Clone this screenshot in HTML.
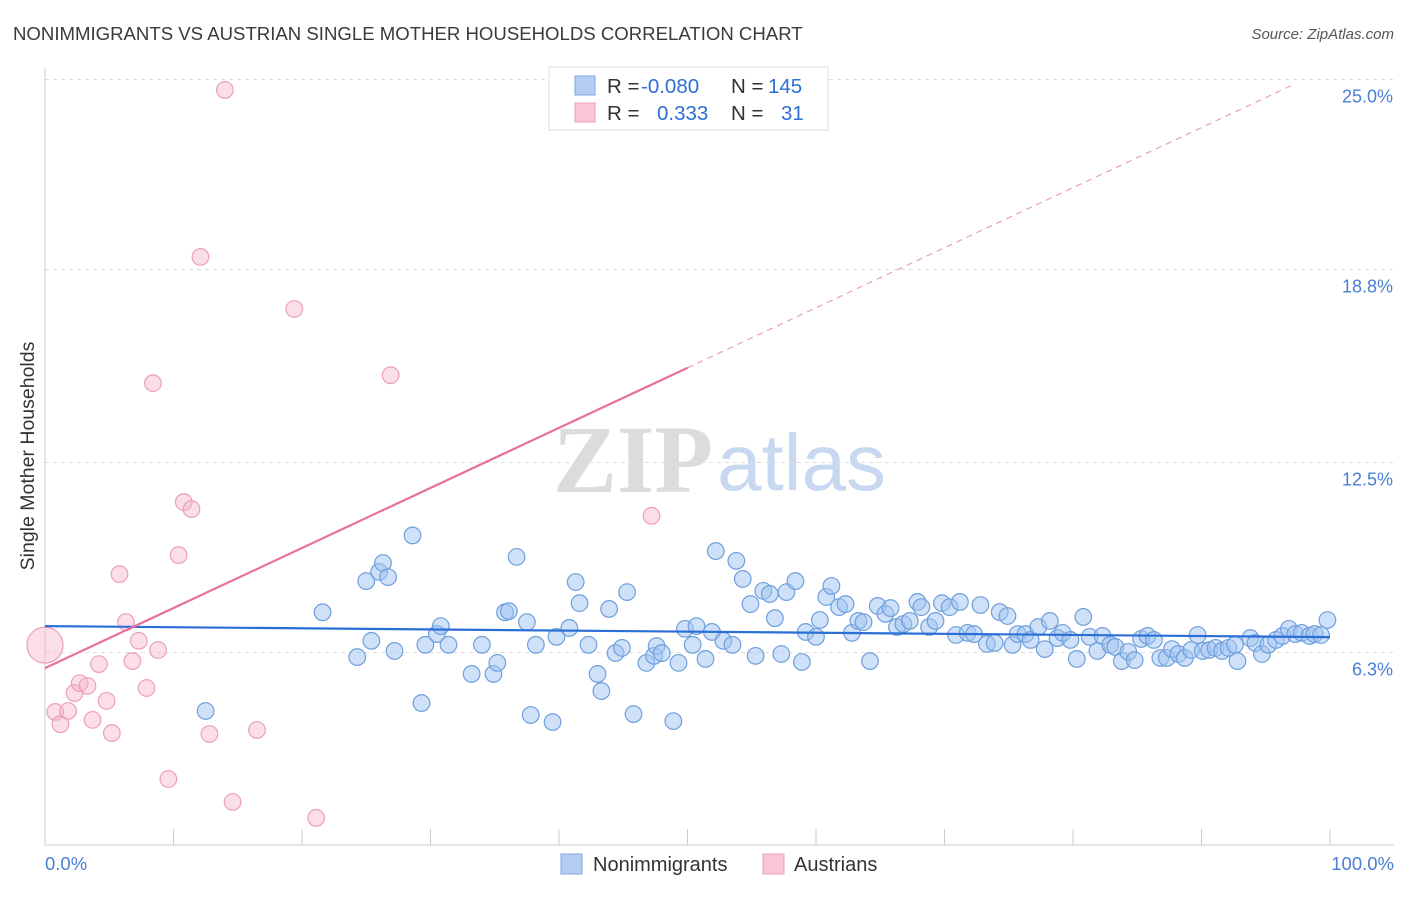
<!DOCTYPE html>
<html><head><meta charset="utf-8">
<style>
body{margin:0;background:#fff;font-family:"Liberation Sans",sans-serif;}
svg text{font-family:"Liberation Sans",sans-serif;}
</style></head>
<body>
<svg id="chart" width="1406" height="892" viewBox="0 0 1406 892" xmlns="http://www.w3.org/2000/svg">
<text x="13" y="40" font-size="18.6" fill="#3a3a3a">NONIMMIGRANTS VS AUSTRIAN SINGLE MOTHER HOUSEHOLDS CORRELATION CHART</text>
<text x="1394" y="39" font-size="15" fill="#555" font-style="italic" text-anchor="end">Source: ZipAtlas.com</text>
<g>
<text x="553" y="492" font-size="96" fill="#dcdcdc" font-weight="bold" style="font-family:'Liberation Serif',serif">ZIP</text>
<text x="717" y="490" font-size="80" fill="#c7d8f0">atlas</text>
</g>
<g id="grid"></g>
<g id="axes"></g>
<g id="pts"></g>
<g id="trend"></g>
<text x="34" y="456" font-size="19.5" fill="#333" text-anchor="middle" transform="rotate(-90 34 456)">Single Mother Households</text>
<g>
<rect x="549" y="67" width="279" height="63" fill="#fff" stroke="#ddd"/>
<rect x="575" y="76" width="20" height="19" fill="#b5cdf2" stroke="#7ea6e0"/>
<rect x="575" y="103" width="20" height="19" fill="#f9c6d6" stroke="#eba0b8"/>
<text y="93" font-size="20.5" fill="#333"><tspan x="607">R =</tspan><tspan x="641" fill="#2d6fd6">-0.080</tspan><tspan x="731">N =</tspan><tspan x="768" fill="#2d6fd6">145</tspan></text>
<text y="120" font-size="20.5" fill="#333"><tspan x="607">R =</tspan><tspan x="657" fill="#2d6fd6">0.333</tspan><tspan x="731">N =</tspan><tspan x="781" fill="#2d6fd6">31</tspan></text>
</g>
<g>
<rect x="561" y="854" width="21" height="20" fill="#b5cdf2" stroke="#7ea6e0"/>
<text x="593" y="871" font-size="20" fill="#333">Nonimmigrants</text>
<rect x="763" y="854" width="21" height="20" fill="#f9c6d6" stroke="#eba0b8"/>
<text x="794" y="871" font-size="20" fill="#333">Austrians</text>
</g>
</svg>
<script>
const yTicks=[6.3,12.5,18.8,25.0];
const yTickLabels=["6.3%","12.5%","18.8%","25.0%"];
const xTickLabels=["0.0%","100.0%"];
const blueX=[12.5,21.6,24.3,25.0,25.4,26.0,26.3,26.7,27.2,28.6,29.3,29.6,30.5,30.8,31.4,33.2,34.0,34.9,35.2,35.8,36.1,36.7,37.5,37.8,38.2,39.5,39.8,40.8,41.3,41.6,42.3,43.0,43.3,43.9,44.4,44.9,45.3,45.8,46.8,47.4,47.6,48.0,48.9,49.3,49.8,50.4,50.7,51.4,51.9,52.2,52.8,53.5,53.8,54.3,54.9,55.3,55.9,56.4,56.8,57.3,57.7,58.4,58.9,59.2,60.0,60.3,60.8,61.2,61.8,62.3,62.8,63.3,63.7,64.2,64.8,65.4,65.8,66.3,66.8,67.3,67.9,68.2,68.8,69.3,69.8,70.4,70.9,71.2,71.8,72.3,72.8,73.3,73.9,74.3,74.9,75.3,75.7,76.3,76.7,77.3,77.8,78.2,78.8,79.2,79.8,80.3,80.8,81.3,81.9,82.3,82.9,83.3,83.8,84.3,84.8,85.3,85.8,86.3,86.8,87.3,87.7,88.2,88.7,89.2,89.7,90.1,90.6,91.1,91.6,92.1,92.6,92.8,93.8,94.2,94.7,95.2,95.8,96.3,96.8,97.3,97.8,98.4,98.8,99.3,99.8];
const blueY=[4.39,7.61,6.15,8.63,6.68,8.93,9.22,8.76,6.35,10.12,4.65,6.55,6.90,7.16,6.55,5.60,6.55,5.60,5.96,7.61,7.65,9.42,7.29,4.26,6.55,4.03,6.81,7.10,8.60,7.91,6.55,5.60,5.04,7.72,6.28,6.45,8.27,4.29,5.96,6.19,6.51,6.28,4.06,5.96,7.07,6.55,7.16,6.09,6.97,9.61,6.68,6.55,9.29,8.70,7.88,6.19,8.31,8.21,7.42,6.25,8.27,8.63,5.99,6.97,6.81,7.36,8.11,8.47,7.78,7.88,6.94,7.33,7.29,6.02,7.82,7.56,7.75,7.13,7.23,7.33,7.95,7.78,7.13,7.33,7.91,7.78,6.87,7.95,6.94,6.90,7.85,6.58,6.61,7.62,7.49,6.55,6.90,6.90,6.71,7.13,6.41,7.33,6.77,6.94,6.71,6.09,7.46,6.81,6.35,6.84,6.55,6.48,6.02,6.32,6.05,6.74,6.84,6.71,6.12,6.12,6.41,6.25,6.12,6.38,6.87,6.35,6.38,6.45,6.35,6.45,6.55,6.02,6.77,6.61,6.25,6.55,6.71,6.84,7.07,6.90,6.94,6.84,6.90,6.87,7.36];
const pinkX=[0,0.8,1.2,1.8,2.3,2.7,3.3,3.7,4.2,4.8,5.2,5.8,6.3,6.8,7.3,7.9,8.4,8.8,9.6,10.4,10.8,11.4,12.1,12.8,14.0,14.6,16.5,19.4,21.1,26.9,47.2];
const pinkY=[6.54,4.36,3.96,4.39,4.98,5.30,5.21,4.10,5.92,4.72,3.67,8.86,7.29,6.02,6.68,5.14,15.09,6.38,2.17,9.48,11.21,10.98,19.21,3.64,24.66,1.42,3.77,17.51,0.90,15.35,10.76];
const blueTrend=[7.16,6.80];       // y at x=0 and x=100
const pinkTrend=[5.79,0.196];      // intercept, slope
const pinkSolidEnd=50, pinkDashEnd=97;

const NS="http://www.w3.org/2000/svg";
const X=v=>45+v*12.85;
const Y=v=>845.5-v*30.64;
function mk(tag,attrs,parent){const e=document.createElementNS(NS,tag);for(const k in attrs)e.setAttribute(k,attrs[k]);parent.appendChild(e);return e;}
const grid=document.getElementById('grid'),axes=document.getElementById('axes'),pts=document.getElementById('pts'),trend=document.getElementById('trend');
yTicks.forEach((t,i)=>{
 const l=mk('line',{x1:45,x2:1394,y1:Y(t),y2:Y(t),stroke:'#ddd','stroke-dasharray':'4,4'},grid);
 
 
 const tx=mk('text',{x:1393,y:Y(t)+23,'font-size':18,fill:'#4a7fd4','text-anchor':'end'},axes);
 tx.textContent=yTickLabels[i];
 
 
});
const ya=mk('line',{x1:45,x2:45,y1:68,y2:845,stroke:'#ccc'},axes);


const xa=mk('line',{x1:45,x2:1394,y1:845,y2:845,stroke:'#ccc'},axes);


for(let i=0;i<=10;i++){
 const t=mk('line',{x1:X(i*10),x2:X(i*10),y1:829,y2:845,stroke:'#ccc'},axes);
 
 
}
const xl0=mk('text',{x:45,y:870,'font-size':18.5,fill:'#4a7fd4'},axes);xl0.textContent=xTickLabels[0];


const xl1=mk('text',{x:1394,y:870,'font-size':18.5,fill:'#4a7fd4','text-anchor':'end'},axes);xl1.textContent=xTickLabels[1];



blueX.forEach((x,i)=>{
 const c=mk('circle',{cx:X(x),cy:Y(blueY[i]),r:8.3,fill:'rgba(160,195,242,0.5)',stroke:'#6f9fdc','stroke-width':1.2},pts);
 
 
});
pinkX.forEach((x,i)=>{
 const c=mk('circle',{cx:X(x),cy:Y(pinkY[i]),r:i===0?18:8.3,fill:'rgba(247,182,204,0.45)',stroke:'#eba0b8','stroke-width':1.2},pts);
 
 
});
const bl=mk('line',{x1:X(0),y1:Y(blueTrend[0]),x2:X(100),y2:Y(blueTrend[1]),stroke:'#2b6fd6','stroke-width':2.2},trend);


const py=x=>pinkTrend[0]+pinkTrend[1]*x;
const pl=mk('line',{x1:X(0),y1:Y(py(0)),x2:X(pinkSolidEnd),y2:Y(py(pinkSolidEnd)),stroke:'#e8709a','stroke-width':2.2},trend);


const pd=mk('line',{x1:X(pinkSolidEnd),y1:Y(py(pinkSolidEnd)),x2:X(pinkDashEnd),y2:Y(py(pinkDashEnd)),stroke:'#e8a0b8','stroke-width':1.2,'stroke-dasharray':'6,5'},trend);


</script>
</body></html>
